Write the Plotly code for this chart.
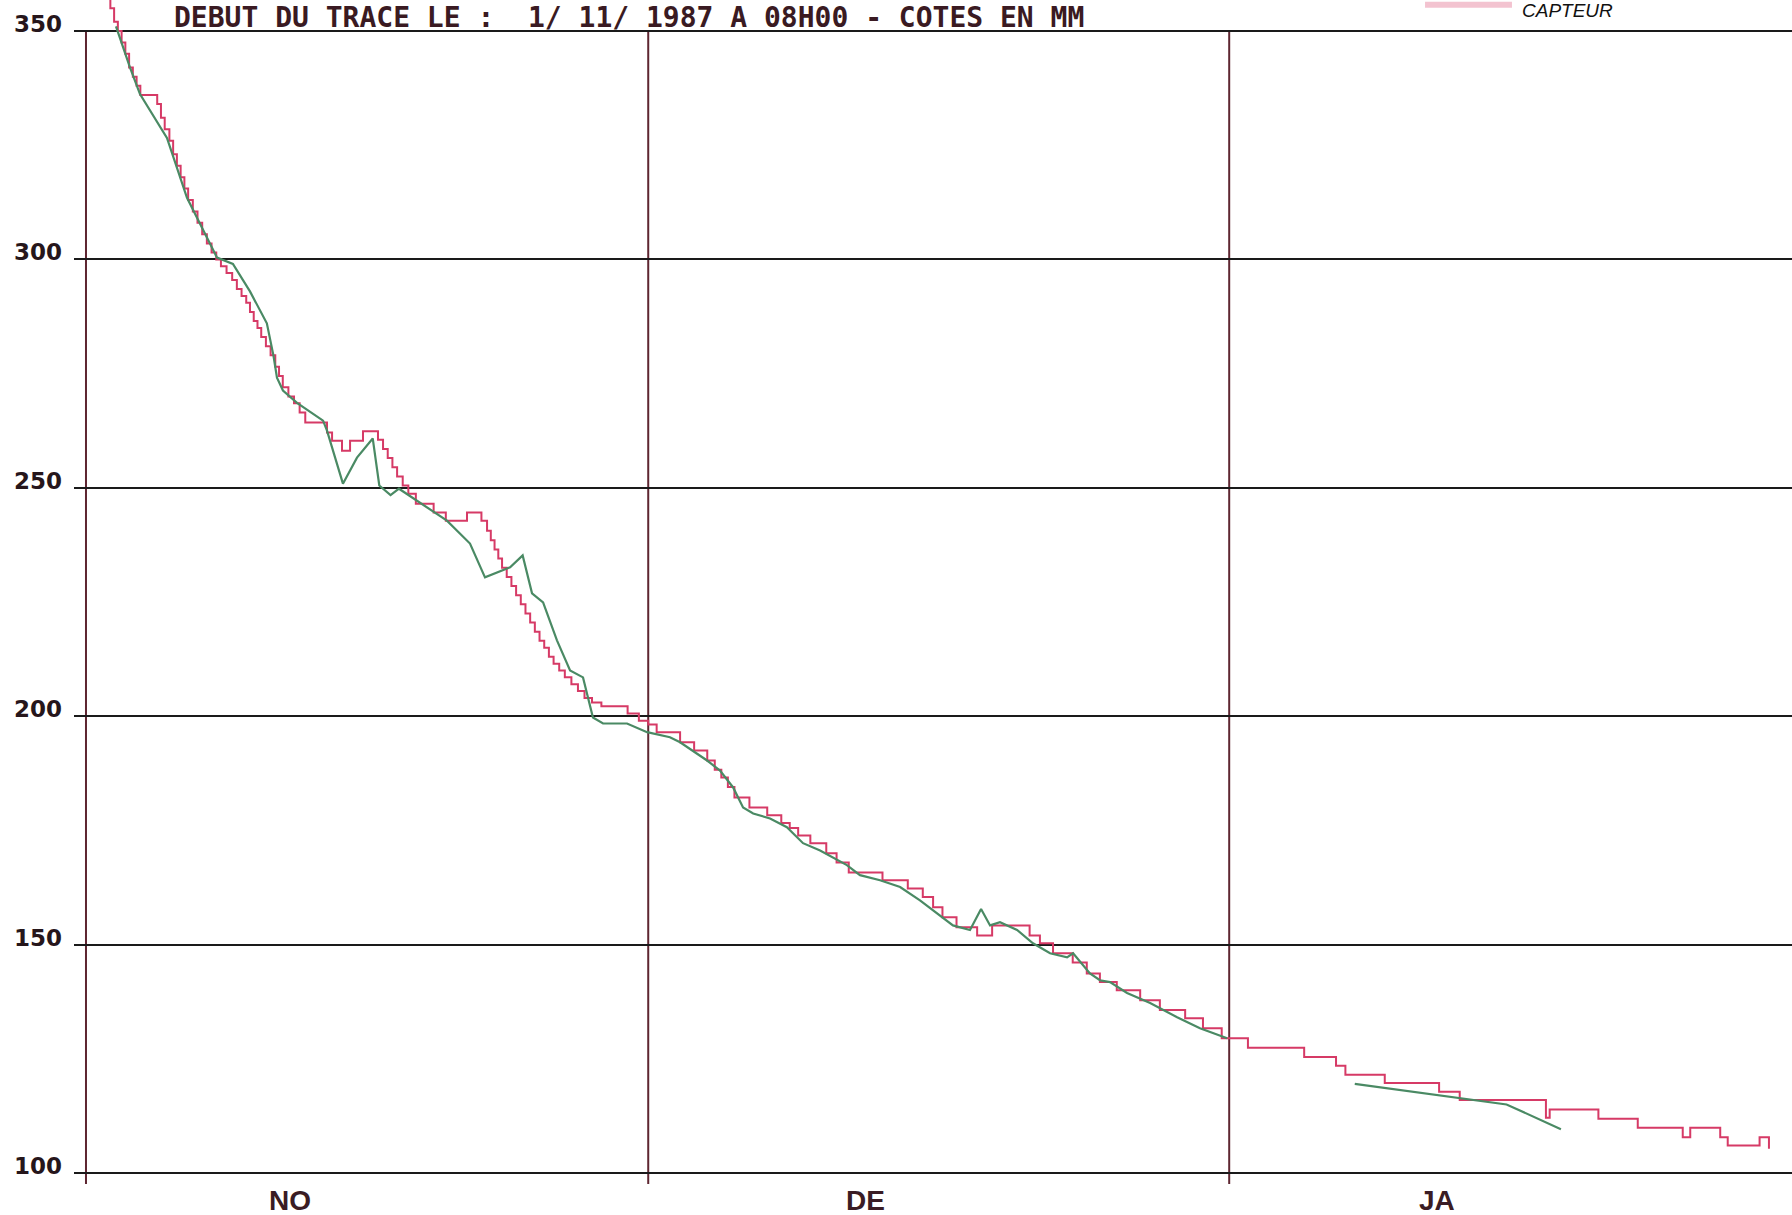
import plotly.graph_objects as go

# ---------------- data (days since 1 Nov 1987, values in mm) ----------------
red_day = [1.0, 1.3, 1.5, 1.7, 1.9, 2.1, 2.3, 2.5, 2.7, 2.9,
           3.8, 4.0, 4.2, 4.45, 4.65, 4.85, 5.05, 5.25, 5.45, 5.7,
           5.95, 6.2, 6.45, 6.7, 6.95, 7.2, 7.5, 7.8, 8.05, 8.3,
           8.55, 8.75, 8.95, 9.15, 9.35, 9.6, 9.85, 10.1, 10.3, 10.5,
           10.8, 11.1, 11.4, 11.7, 12.86, 13.13, 13.66, 14.09, 14.78, 15.58,
           15.85, 16.1, 16.35, 16.6, 16.9, 17.2, 17.6, 18.55, 19.2, 20.33,
           21.1, 21.4, 21.6, 21.8, 22.0, 22.2, 22.45, 22.7, 22.95, 23.2,
           23.45, 23.7, 23.95, 24.2, 24.45, 24.7, 24.95, 25.25, 25.55, 25.9,
           26.25, 26.6, 27.0, 27.5, 28.9, 29.5, 30.0, 30.45, 31.7, 32.45,
           33.15, 33.55, 33.9, 34.25, 34.6, 35.4, 36.35, 37.1, 37.55, 38.0,
           38.65, 39.5, 40.05, 40.7, 42.5, 43.85, 44.65, 45.2, 45.7, 46.45,
           47.55, 48.35, 50.35, 50.9, 51.6, 52.65, 53.4, 54.1, 55.0, 56.25,
           57.3, 58.65, 59.6, 60.6, 62.0, 65.0, 66.7, 67.2, 69.3, 72.2,
           73.3, 77.9, 78.1, 80.7, 82.8, 85.2, 85.6, 87.2, 87.6, 89.3,
           89.8]
red_mm = [358, 355, 352, 350, 347.5, 345, 342, 340, 338, 336,
          334, 331, 328.5, 326, 323, 320.5, 318, 315.5, 313, 310.5,
          308, 305.5, 303.5, 301.5, 300, 298.5, 297, 295.5, 293.5, 292,
          290.5, 288.5, 286.5, 285, 283, 281, 279, 276.5, 274.5, 272,
          270, 268.5, 266.5, 264.3, 262.1, 260.3, 258.1, 260.3, 262.4, 260.5,
          258.5, 256.5, 254.5, 252.5, 250.5, 248.7, 246.5, 244.6, 242.8, 244.6,
          242.8, 240.6, 238.5, 236.5, 234.5, 232.5, 230.5, 228.5, 226.5, 224.5,
          222.5, 220.5, 218.5, 216.5, 215, 213, 211.5, 210, 208.5, 207,
          205.5, 204, 203, 202.2, 200.6, 199.0, 198.2, 196.5, 194.3, 192.5,
          190.3, 188.3, 186.6, 184.5, 182.2, 180.0, 178.3, 176.6, 175.5, 173.9,
          172.2, 170.0, 168.0, 165.8, 164.1, 162.3, 160.4, 158.2, 156.0, 153.8,
          152.0, 154.2, 152.0, 150.3, 148.1, 146.1, 143.7, 141.8, 140.0, 137.8,
          135.7, 133.9, 131.7, 129.5, 127.4, 125.4, 123.5, 121.5, 119.7, 117.8,
          116.0, 112.1, 113.9, 111.9, 109.9, 107.8, 109.9, 107.8, 106.0, 107.8,
          105.3]

green_day = [1.6, 2.35, 2.88, 4.32, 5.39, 6.99, 7.84, 8.75, 9.65, 10.0,
             10.19, 10.51, 11.26, 12.65, 12.86, 13.71, 14.46, 15.3, 15.65, 16.25,
             16.7, 17.66, 19.26, 20.49, 21.29, 22.63, 23.3, 23.8, 24.39, 25.13,
             25.83, 26.52, 27.05, 27.59, 28.87, 29.94, 31.16, 31.7, 33.14, 33.83,
             34.53, 35.06, 35.6, 36.5, 37.4, 38.26, 39.17, 40.6, 41.3, 42.37,
             43.44, 44.5, 46.26, 47.17, 47.76, 48.24, 48.77, 49.68, 50.53, 51.44,
             52.35, 52.67, 53.57, 54.1, 54.64, 55.55, 56.78, 58.22, 59.44, 60.89,
             None, 67.7, 73.5, 75.8, 78.7]
green_mm = [351, 342, 336.2, 326.6, 313.5, 300.4, 299, 293, 286, 279,
            274.1, 271.3, 268.6, 264.7, 262.5, 250.9, 256.6, 260.8, 250.5, 248.4,
            249.8, 247.2, 242.8, 237.8, 230.4, 232.6, 235.2, 226.9, 224.9, 216.6,
            210, 208.5, 199.7, 198.4, 198.4, 196.5, 195.4, 194.3, 190.3, 188.1,
            184.4, 180, 178.7, 177.6, 175.7, 172.2, 170.6, 167.4, 165.2, 164.1,
            162.6, 159.7, 154.2, 153.2, 157.8, 154.2, 154.9, 153.2, 150.3, 148.1,
            147.2, 148.1, 143.7, 142.2, 141.8, 139.4, 137.2, 134.1, 131.7, 129.5,
            None, 119.5, 116.2, 115.0, 109.6]

y_ticks = [100, 150, 200, 250, 300, 350]
month_starts = [0, 30, 61]
month_labels = ["NO", "DE", "JA"]
month_label_days = [10.9, 41.6, 72.1]

title_text = "DEBUT DU TRACE LE :\u00a0\u00a01/ 11/ 1987 A 08H00 - COTES EN MM"
legend_text = "CAPTEUR"

assert len(red_day) == len(red_mm)
assert len(green_day) == len(green_mm)

# ---------------- figure ----------------
RED = "#d63a66"
GREEN = "#4a8a64"
INK = "#26161b"
MAROON = "#5e2631"

fig = go.Figure()
fig.add_trace(go.Scatter(x=red_day, y=red_mm, mode="lines",
                         line=dict(color=RED, width=2, shape="hv"),
                         name="CAPTEUR", hoverinfo="skip"))
fig.add_trace(go.Scatter(x=green_day, y=green_mm, mode="lines",
                         line=dict(color=GREEN, width=2.2),
                         connectgaps=False, hoverinfo="skip", name="REF"))

shapes = []
for d in month_starts:
    shapes.append(dict(type="line", xref="x", yref="y", x0=d, x1=d,
                       y0=97.6, y1=350, line=dict(color=MAROON, width=2),
                       layer="below"))
# legend sample (pink band)
shapes.append(dict(type="rect", xref="paper", yref="paper",
                   x0=0.7864, x1=0.837, y0=0.9935, y1=0.9985,
                   fillcolor="#f3c3d0", line=dict(width=0)))

annotations = []
for v in y_ticks:
    annotations.append(dict(x=0, xref="paper", y=v, yref="y", text=str(v),
                            showarrow=False, xanchor="right", yanchor="middle",
                            xshift=-10, yshift=7,
                            font=dict(family="DejaVu Sans", size=23, color=INK,
                                      weight="bold")))
for lab, d in zip(month_labels, month_label_days):
    annotations.append(dict(x=d, xref="x", y=0, yref="paper", text=lab,
                            showarrow=False, xanchor="center", yanchor="middle",
                            yshift=-15,
                            font=dict(family="Liberation Sans Narrow, Liberation Sans",
                                      size=28, color="#3a1c24", weight="bold")))
annotations.append(dict(x=0.057, xref="paper", y=1, yref="paper", text=title_text,
                        showarrow=False, xanchor="left", yanchor="top",
                        yshift=1,
                        font=dict(family="DejaVu Sans Mono", size=28, color="#3a1a22",
                                  weight="bold")))
annotations.append(dict(x=0.8417, xref="paper", y=1, yref="paper", text=legend_text,
                        showarrow=False, xanchor="left", yanchor="top",
                        yshift=2,
                        font=dict(family="Liberation Sans", size=19, color="#111111",
                                  style="italic")))

fig.update_layout(
    width=1792, height=1215,
    margin=dict(l=74, r=0, t=0, b=30),
    paper_bgcolor="white", plot_bgcolor="white",
    showlegend=False,
    shapes=shapes, annotations=annotations,
    xaxis=dict(range=[-0.64, 91.03], showgrid=False, zeroline=False,
               showticklabels=False, ticks="", showline=False),
    yaxis=dict(range=[97.373, 356.786], tickvals=y_ticks, showgrid=True,
               gridcolor="#1a1a1a", gridwidth=2, zeroline=False,
               showticklabels=False, ticks="", showline=False),
)

fig.write_html(
    "out.html",
    config={"displayModeBar": False},
    post_script="document.body.style.margin='0';document.body.style.overflow='hidden';",
)
